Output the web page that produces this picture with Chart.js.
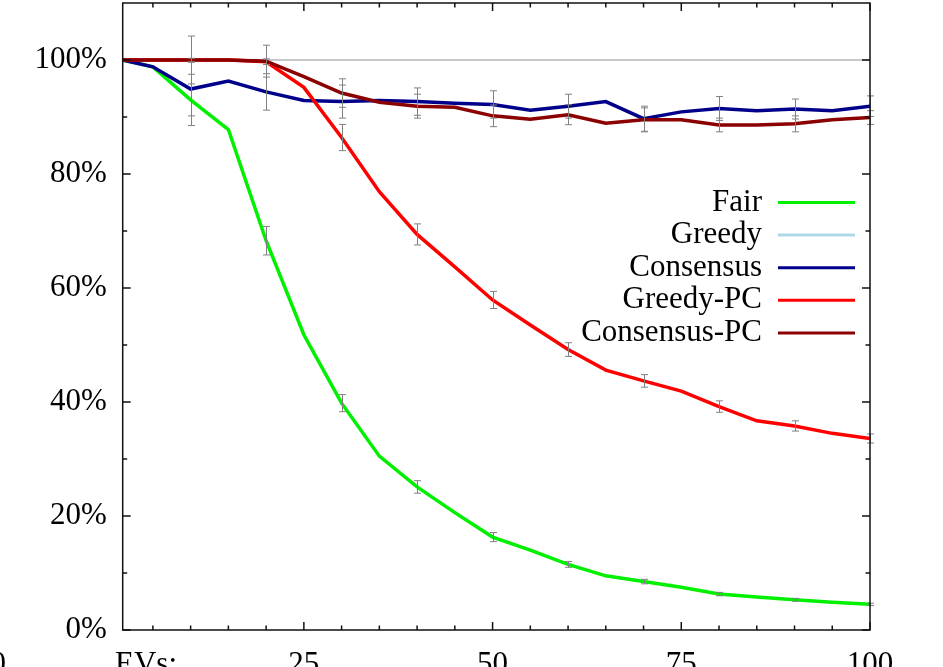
<!DOCTYPE html>
<html>
<head>
<meta charset="utf-8">
<script src="https://cdn.jsdelivr.net/npm/chart.js@4.4.0/dist/chart.umd.min.js"></script>
<style>
  html, body { margin: 0; padding: 0; background: #fff; overflow: hidden; }
  canvas { display: block; }
</style>
</head>
<body>
<canvas id="chart" width="943" height="667"></canvas>
<script>
// x positions (number of EVs)
const evs = [1, 5, 10, 15, 20, 25, 30, 35, 40, 45, 50, 55, 60, 65, 70, 75, 80, 85, 90, 95, 100];

// series values in %
const fair = [100, 98.8, 93.0, 87.8, 68.3, 51.8, 39.8, 30.5, 25.1, 20.6, 16.3, 14.0, 11.5, 9.5, 8.5, 7.5, 6.3, 5.8, 5.3, 4.85, 4.5];
const greedy = [100, 100, 100, 100, 100, 100, 100, 100, 100, 100, 100, 100, 100, 100, 100, 100, 100, 100, 100, 100, 100];
const consensus = [100, 98.8, 94.9, 96.3, 94.4, 92.9, 92.7, 92.9, 92.7, 92.4, 92.2, 91.2, 91.9, 92.7, 89.7, 90.9, 91.5, 91.1, 91.4, 91.1, 91.9];
const greedyPC = [100, 100, 100, 100, 99.7, 95.2, 86.4, 76.9, 69.4, 63.7, 57.9, 53.5, 49.2, 45.6, 43.7, 41.9, 39.2, 36.7, 35.8, 34.5, 33.6];
const consensusPC = [100, 100, 100, 100, 99.8, 97.1, 94.2, 92.6, 91.9, 91.7, 90.2, 89.6, 90.4, 88.9, 89.5, 89.5, 88.6, 88.6, 88.8, 89.5, 89.9];

// error bars (± %) at every 10 EVs
const errEvs = [10, 20, 30, 40, 50, 60, 70, 80, 90, 100];
const fairErr = [4.5, 2.5, 1.5, 1.1, 0.8, 0.5, 0.4, 0.3, 0.25, 0.2];
const greedyErr = [0, 0, 0, 0, 0, 0, 0, 0, 0, 0];
const consensusErr = [4.7, 3.2, 2.9, 2.4, 2.4, 2.1, 2.2, 2.1, 1.75, 1.8];
const greedyPCErr = [0.3, 0.5, 2.3, 1.85, 1.5, 1.2, 1.1, 1.0, 0.9, 0.8];
const consensusPCErr = [4.2, 2.8, 2.5, 2.1, 1.9, 1.75, 2.1, 1.2, 1.4, 1.2];

// axis ticks
const xTickValues = [25, 50, 75, 100];
const xMinorTicks = [5, 10, 15, 20, 30, 35, 40, 45, 55, 60, 65, 70, 80, 85, 90, 95];
const yTickValues = [0, 20, 40, 60, 80, 100];
const yMinorTicks = [10, 30, 50, 70, 90];

const labels = ["Fair", "Greedy", "Consensus", "Greedy-PC", "Consensus-PC"];
const seriesValues = [fair, greedy, consensus, greedyPC, consensusPC];
const seriesErr = [fairErr, greedyErr, consensusErr, greedyPCErr, consensusPCErr];
const lineColors = ["#00f000", "#b4b8bc", "#00008b", "#ff0000", "#8b0000"];
const legendColors = ["#00f000", "#add8e6", "#00008b", "#ff0000", "#8b0000"];
const lineWidths = [3.5, 1.5, 3.5, 3.5, 3.5];

const FONT = "31px 'Liberation Serif', 'Times New Roman', serif";
Chart.defaults.font.family = "'Liberation Serif', 'Times New Roman', serif";
Chart.defaults.font.size = 31;
Chart.defaults.color = "#000";

const datasets = labels.map((name, i) => ({
    label: name,
    data: evs.map((x, j) => ({ x: x, y: seriesValues[i][j] })),
    borderColor: lineColors[i],
    borderWidth: lineWidths[i],
    pointRadius: 0,
    tension: 0,
    fill: false,
    order: labels.length - i // later series on top, like gnuplot
}));

// gray error bars with caps
const errorBars = {
    id: "errorBars",
    afterDatasetsDraw(chart) {
        const ctx = chart.ctx;
        const xs = chart.scales.x, ys = chart.scales.y;
        ctx.save();
        ctx.strokeStyle = "#808080";
        ctx.lineWidth = 1;
        seriesErr.forEach((errs, i) => {
            errs.forEach((e, k) => {
                if (!e) return;
                const j = evs.indexOf(errEvs[k]);
                const v = seriesValues[i][j];
                const px = Math.round(xs.getPixelForValue(errEvs[k])) + 0.5;
                const top = ys.getPixelForValue(v + e);
                const bot = ys.getPixelForValue(v - e);
                ctx.beginPath();
                ctx.moveTo(px, top); ctx.lineTo(px, bot);
                ctx.moveTo(px - 3.5, top); ctx.lineTo(px + 3.5, top);
                ctx.moveTo(px - 3.5, bot); ctx.lineTo(px + 3.5, bot);
                ctx.stroke();
            });
        });
        ctx.restore();
    }
};

// border box with inward ticks, extra x labels and the key
const frame = {
    id: "frame",
    afterDraw(chart) {
        const ctx = chart.ctx;
        const a = chart.chartArea;
        const xs = chart.scales.x, ys = chart.scales.y;
        ctx.save();
        ctx.strokeStyle = "#111";
        ctx.lineWidth = 1.5;
        ctx.strokeRect(a.left, a.top, a.right - a.left, a.bottom - a.top);

        ctx.beginPath();
        const xt = (v, len) => {
            const px = xs.getPixelForValue(v);
            ctx.moveTo(px, a.bottom); ctx.lineTo(px, a.bottom - len);
            ctx.moveTo(px, a.top); ctx.lineTo(px, a.top + len);
        };
        const yt = (v, len) => {
            const py = ys.getPixelForValue(v);
            ctx.moveTo(a.left, py); ctx.lineTo(a.left + len, py);
            ctx.moveTo(a.right, py); ctx.lineTo(a.right - len, py);
        };
        xTickValues.forEach(v => xt(v, 8));
        xMinorTicks.forEach(v => xt(v, 4.5));
        yTickValues.forEach(v => yt(v, 8));
        yMinorTicks.forEach(v => yt(v, 4.5));
        ctx.stroke();

        // leftover x labels
        ctx.font = FONT;
        ctx.fillStyle = "#000";
        ctx.textBaseline = "middle";
        ctx.textAlign = "right";
        ctx.fillText("0", 6, 665);
        ctx.textAlign = "center";
        ctx.fillText("EVs:", 146, 665);

        // key
        labels.forEach((name, i) => {
            const y = 202.5 + i * 32.6;
            ctx.textAlign = "right";
            ctx.fillStyle = "#000";
            ctx.fillText(name, 762, y);
            ctx.strokeStyle = legendColors[i];
            ctx.lineWidth = 3;
            ctx.beginPath();
            ctx.moveTo(778, y); ctx.lineTo(855, y);
            ctx.stroke();
        });
        ctx.restore();
    }
};

new Chart(document.getElementById("chart"), {
    type: "line",
    data: { datasets: datasets },
    options: {
        responsive: false,
        animation: false,
        layout: { padding: { top: 3, right: 73, left: 0, bottom: 0 } },
        plugins: { legend: { display: false }, tooltip: { enabled: false } },
        scales: {
            x: {
                type: "linear", min: 1, max: 100,
                grid: { display: false }, border: { display: false },
                afterBuildTicks: s => { s.ticks = xTickValues.map(v => ({ value: v })); },
                afterFit: s => { s.height = 37; s.paddingLeft = 0; s.paddingRight = 0; },
                ticks: { padding: 8, maxRotation: 0, autoSkip: false, color: "#000", callback: v => String(v) }
            },
            y: {
                type: "linear", min: 0, max: 110,
                grid: { display: false }, border: { display: false },
                afterBuildTicks: s => { s.ticks = yTickValues.map(v => ({ value: v })); },
                afterFit: s => { s.width = 122.7; s.paddingTop = 0; s.paddingBottom = 0; },
                ticks: { padding: 8, color: "#000", callback: v => v + "%" }
            }
        }
    },
    plugins: [errorBars, frame]
});
</script>
</body>
</html>
